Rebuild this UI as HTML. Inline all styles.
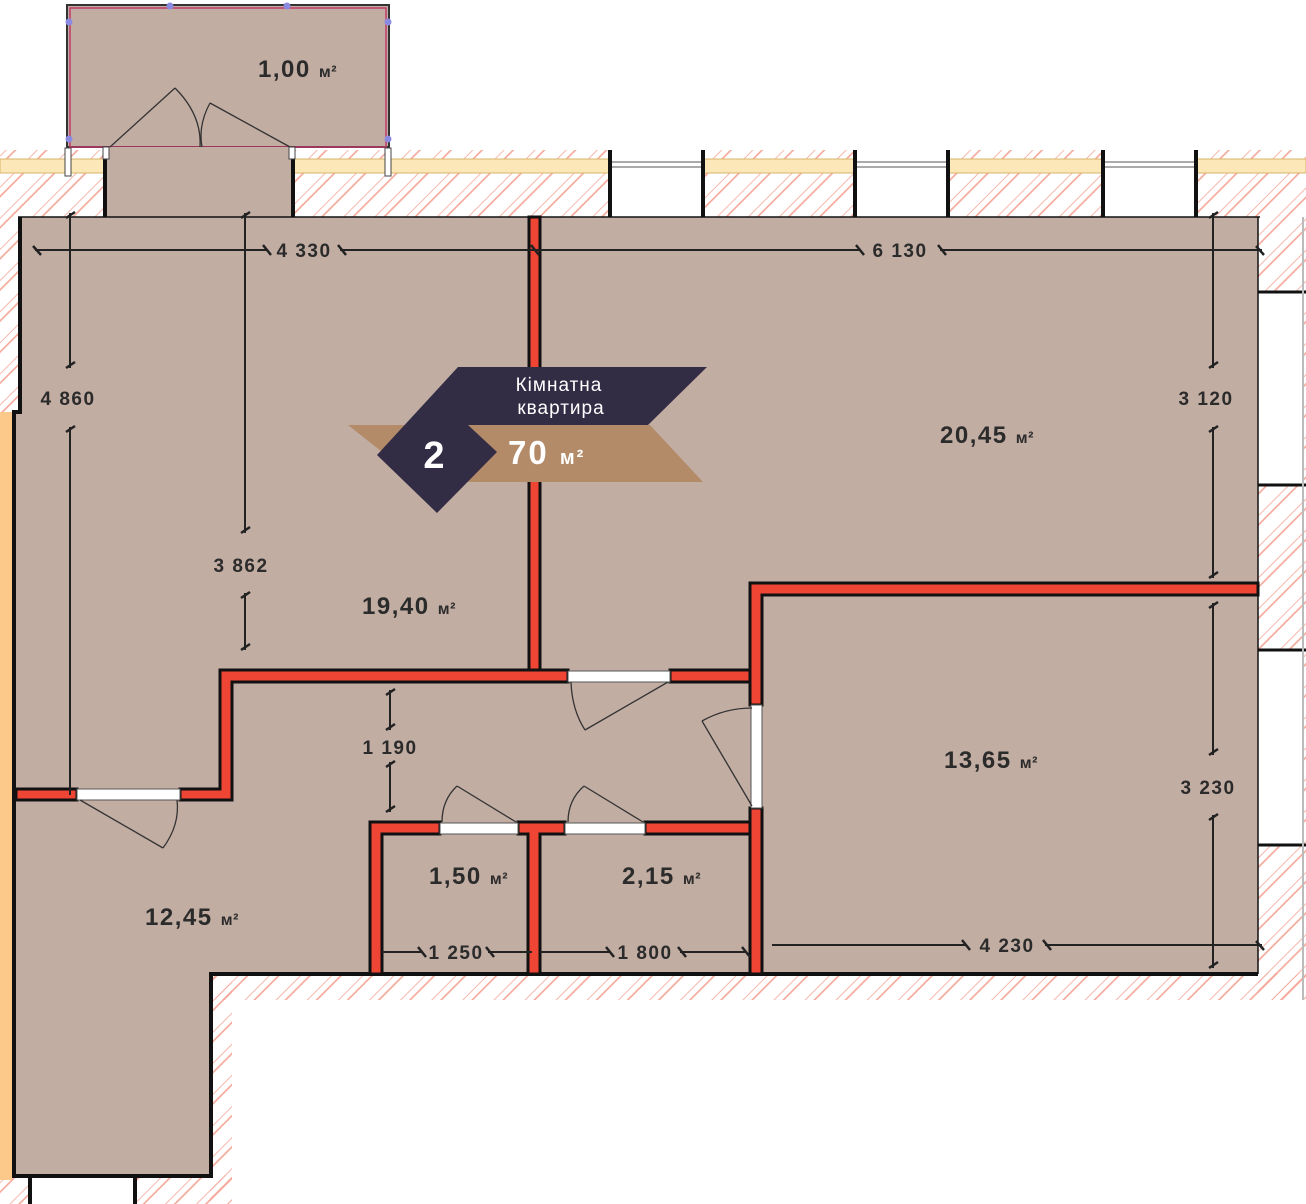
<!DOCTYPE html>
<html><head><meta charset="utf-8"><style>
html,body{margin:0;padding:0;background:#fff;}
svg{display:block;}
text{font-family:"Liberation Sans",sans-serif;}
.rl{font-size:24px;font-weight:bold;fill:#2b2b2b;letter-spacing:1.5px;}
.sm{font-size:16px;font-weight:bold;letter-spacing:0.5px;}
.dl{font-size:19px;font-weight:bold;fill:#2b2b2b;letter-spacing:1.5px;}
</style></head><body>
<svg width="1306" height="1204" viewBox="0 0 1306 1204" xmlns="http://www.w3.org/2000/svg">
<defs>
<pattern id="h" width="22" height="22" patternUnits="userSpaceOnUse" patternTransform="rotate(45)">
<line x1="0" y1="0" x2="0" y2="22" stroke="#f4a596" stroke-width="1.6"/>
<line x1="7" y1="0" x2="7" y2="22" stroke="#f4a596" stroke-width="1.6"/>
</pattern>
</defs>
<rect width="1306" height="1204" fill="#fff"/>
<rect x="0" y="150" width="1306" height="67" fill="url(#h)"/>
<rect x="0" y="217" width="18" height="195" fill="url(#h)"/>
<rect x="1258" y="217" width="48" height="783" fill="url(#h)"/>
<rect x="210" y="973" width="1096" height="27" fill="url(#h)"/>
<rect x="210" y="973" width="22" height="231" fill="url(#h)"/>
<rect x="0" y="1175" width="232" height="29" fill="url(#h)"/>
<rect x="30" y="1175" width="105" height="29" fill="#fff"/>
<rect x="1258" y="292" width="46" height="193" fill="#fff"/>
<rect x="1258" y="650" width="46" height="195" fill="#fff"/>
<g stroke="#111" stroke-width="3"><line x1="1258" y1="292" x2="1306" y2="292"/><line x1="1258" y1="485" x2="1306" y2="485"/><line x1="1258" y1="650" x2="1306" y2="650"/><line x1="1258" y1="845" x2="1306" y2="845"/></g>
<line x1="1303" y1="217" x2="1303" y2="1000" stroke="#bbb" stroke-width="2"/>
<rect x="0" y="159" width="1306" height="14" fill="#fbe7b8" stroke="#d9b56a" stroke-width="1"/>
<g fill="#fff" stroke="#555" stroke-width="1">
<rect x="610" y="150" width="93" height="67" stroke="none"/><rect x="610" y="162" width="93" height="5"/>
<rect x="855" y="150" width="93" height="67" stroke="none"/><rect x="855" y="162" width="93" height="5"/>
<rect x="1103" y="150" width="93" height="67" stroke="none"/><rect x="1103" y="162" width="93" height="5"/>
</g>
<g stroke="#111" stroke-width="4"><line x1="610" y1="150" x2="610" y2="218"/><line x1="703" y1="150" x2="703" y2="218"/><line x1="855" y1="150" x2="855" y2="218"/><line x1="948" y1="150" x2="948" y2="218"/><line x1="1103" y1="150" x2="1103" y2="218"/><line x1="1196" y1="150" x2="1196" y2="218"/></g>
<rect x="67" y="5" width="322" height="142" fill="#c2ada3" stroke="#333" stroke-width="2"/>
<rect x="70" y="8" width="316" height="139" fill="none" stroke="#c03a6a" stroke-width="1.5"/>
<rect x="105" y="147" width="188" height="70" fill="#c2ada3"/>
<g stroke="#111" stroke-width="4"><line x1="105" y1="147" x2="105" y2="218"/><line x1="293" y1="147" x2="293" y2="218"/></g>
<g fill="#fff" stroke="#444" stroke-width="1"><rect x="65" y="148" width="6" height="28"/><rect x="385" y="148" width="6" height="28"/><rect x="103" y="147" width="6" height="12"/><rect x="289" y="147" width="6" height="12"/></g>
<g fill="#8a8ae0"><circle cx="170" cy="6" r="3.5"/><circle cx="287" cy="6" r="3.5"/><circle cx="69" cy="22" r="3.5"/><circle cx="388" cy="22" r="3.5"/><circle cx="69" cy="139" r="3.5"/><circle cx="388" cy="139" r="3.5"/></g>
<g fill="none" stroke="#333" stroke-width="1.3">
<polyline points="110,147 175,88"/><path d="M175,88 Q202,115 200,147"/>
<polyline points="290,147 210,103"/><path d="M210,103 Q198,125 202,147"/>
</g>
<text class="rl" x="258" y="77">1,00 <tspan class="sm">м²</tspan></text>
<path d="M18,217 H1258 V973 H210 V1175 H13 V412 H18 Z" fill="#c2ada3"/>
<rect x="0" y="412" width="12" height="768" fill="#fcc98a"/>
<g stroke="#111" stroke-width="4" fill="none">
<path d="M20,217 V412 H14 V1176 H211 V974 H1258"/>
<line x1="30" y1="1176" x2="30" y2="1204"/><line x1="135" y1="1176" x2="135" y2="1204"/>
<line x1="18" y1="217" x2="1260" y2="217" stroke-width="1.5"/>
<line x1="1258" y1="217" x2="1258" y2="974" stroke-width="1.5"/>
</g>
<g fill="#ef4535" stroke="#111" stroke-width="3">
<rect x="529" y="217" width="11" height="455"/>
<path d="M220,670 H568 V682 H232 V800 H180 V789 H220 Z"/>
<rect x="16" y="789" width="61" height="11"/>
<rect x="670" y="670" width="92" height="12"/>
<path d="M750,583 H1258 V595 H762 V705 H750 Z"/>
<rect x="750" y="808" width="12" height="166"/>
<path d="M370,822 H440 V834 H382 V974 H370 Z"/>
<path d="M518,822 H565 V834 H540 V974 H528 V834 H518 Z"/>
<rect x="645" y="822" width="105" height="12"/>
</g>
<g fill="#fff" stroke="#555" stroke-width="1">
<rect x="77" y="789" width="103" height="11"/><rect x="568" y="671" width="102" height="11"/>
<rect x="751" y="705" width="11" height="103"/><rect x="440" y="823" width="78" height="11"/><rect x="565" y="823" width="80" height="11"/>
</g>
<g fill="none" stroke="#333" stroke-width="1.3">
<line x1="80" y1="800" x2="163" y2="848"/><path d="M163,848 Q180,825 177,800"/>
<line x1="668" y1="682" x2="585" y2="730"/><path d="M585,730 Q572,710 571,682"/>
<line x1="752" y1="806" x2="702" y2="721"/><path d="M702,721 Q725,708 752,708"/>
<line x1="516" y1="822" x2="457" y2="786"/><path d="M457,786 Q442,800 442,822"/>
<line x1="643" y1="822" x2="584" y2="786"/><path d="M584,786 Q568,800 568,822"/>
</g>
<g stroke="#222" stroke-width="2" fill="none">
<line x1="35" y1="250" x2="268" y2="250"/><line x1="340" y1="250" x2="860" y2="250"/><line x1="940" y1="250" x2="1262" y2="250"/>
<line x1="70" y1="213" x2="70" y2="368"/><line x1="70" y1="427" x2="70" y2="795"/>
<line x1="245" y1="213" x2="245" y2="533"/><line x1="245" y1="593" x2="245" y2="650"/>
<line x1="1213" y1="213" x2="1213" y2="368"/><line x1="1213" y1="427" x2="1213" y2="578"/>
<line x1="1213" y1="603" x2="1213" y2="755"/><line x1="1213" y1="815" x2="1213" y2="968"/>
<line x1="390" y1="690" x2="390" y2="730"/><line x1="390" y1="762" x2="390" y2="812"/>
<line x1="772" y1="945" x2="965" y2="945"/><line x1="1045" y1="945" x2="1262" y2="945"/>
<line x1="382" y1="952" x2="422" y2="952"/><line x1="488" y1="952" x2="532" y2="952"/>
<line x1="540" y1="952" x2="610" y2="952"/><line x1="680" y1="952" x2="745" y2="952"/>
</g>
<g stroke="#222" stroke-width="2.5">
<line x1="33" y1="246" x2="41" y2="255"/><line x1="263" y1="245" x2="271" y2="255"/><line x1="338" y1="245" x2="346" y2="255"/><line x1="531" y1="245" x2="539" y2="255"/><line x1="856" y1="245" x2="864" y2="255"/><line x1="938" y1="245" x2="946" y2="255"/><line x1="1256" y1="246" x2="1264" y2="255"/>
<line x1="66" y1="218" x2="75" y2="212"/><line x1="66" y1="368" x2="75" y2="362"/><line x1="66" y1="432" x2="75" y2="426"/>
<line x1="241" y1="218" x2="250" y2="212"/><line x1="241" y1="533" x2="250" y2="527"/><line x1="241" y1="598" x2="250" y2="592"/><line x1="241" y1="650" x2="250" y2="644"/>
<line x1="1209" y1="218" x2="1218" y2="212"/><line x1="1209" y1="368" x2="1218" y2="362"/><line x1="1209" y1="432" x2="1218" y2="426"/><line x1="1209" y1="578" x2="1218" y2="572"/><line x1="1209" y1="608" x2="1218" y2="602"/><line x1="1209" y1="755" x2="1218" y2="749"/><line x1="1209" y1="820" x2="1218" y2="814"/><line x1="1209" y1="968" x2="1218" y2="962"/>
<line x1="386" y1="695" x2="395" y2="689"/><line x1="386" y1="730" x2="395" y2="724"/><line x1="386" y1="767" x2="395" y2="761"/><line x1="386" y1="812" x2="395" y2="806"/>
<line x1="962" y1="940" x2="970" y2="950"/><line x1="1043" y1="940" x2="1051" y2="950"/><line x1="1256" y1="941" x2="1264" y2="950"/>
<line x1="418" y1="947" x2="426" y2="957"/><line x1="486" y1="947" x2="494" y2="957"/><line x1="606" y1="947" x2="614" y2="957"/><line x1="678" y1="947" x2="686" y2="957"/><line x1="742" y1="947" x2="750" y2="957"/>
</g>
<g class="dl" text-anchor="middle">
<text x="304" y="257">4 330</text><text x="900" y="257">6 130</text>
<text x="68" y="405">4 860</text><text x="241" y="572">3 862</text>
<text x="1206" y="405">3 120</text><text x="1208" y="794">3 230</text>
<text x="390" y="754">1 190</text><text x="1007" y="952">4 230</text>
<text x="456" y="959">1 250</text><text x="645" y="959">1 800</text>
</g>
<text class="rl" x="940" y="443">20,45 <tspan class="sm">м²</tspan></text>
<text class="rl" x="362" y="614">19,40 <tspan class="sm">м²</tspan></text>
<text class="rl" x="944" y="768">13,65 <tspan class="sm">м²</tspan></text>
<text class="rl" x="429" y="884">1,50 <tspan class="sm">м²</tspan></text>
<text class="rl" x="622" y="884">2,15 <tspan class="sm">м²</tspan></text>
<text class="rl" x="145" y="925">12,45 <tspan class="sm">м²</tspan></text>
<polygon points="348,425 650,425 703,482 420,482" fill="#b38b69"/>
<polygon points="458,367 707,367 648,425 468,425 497,452 437,513 377,455" fill="#322c45"/>
<text x="559" y="391" text-anchor="middle" fill="#fff" font-size="19" letter-spacing="1">Кімнатна</text>
<text x="561" y="414" text-anchor="middle" fill="#fff" font-size="19" letter-spacing="1">квартира</text>
<text x="434" y="468" text-anchor="middle" fill="#fff" font-size="38" font-weight="bold">2</text>
<text x="508" y="464" fill="#fff" font-size="33" font-weight="bold" letter-spacing="2">70 <tspan font-size="20">м²</tspan></text>
</svg>
</body></html>
